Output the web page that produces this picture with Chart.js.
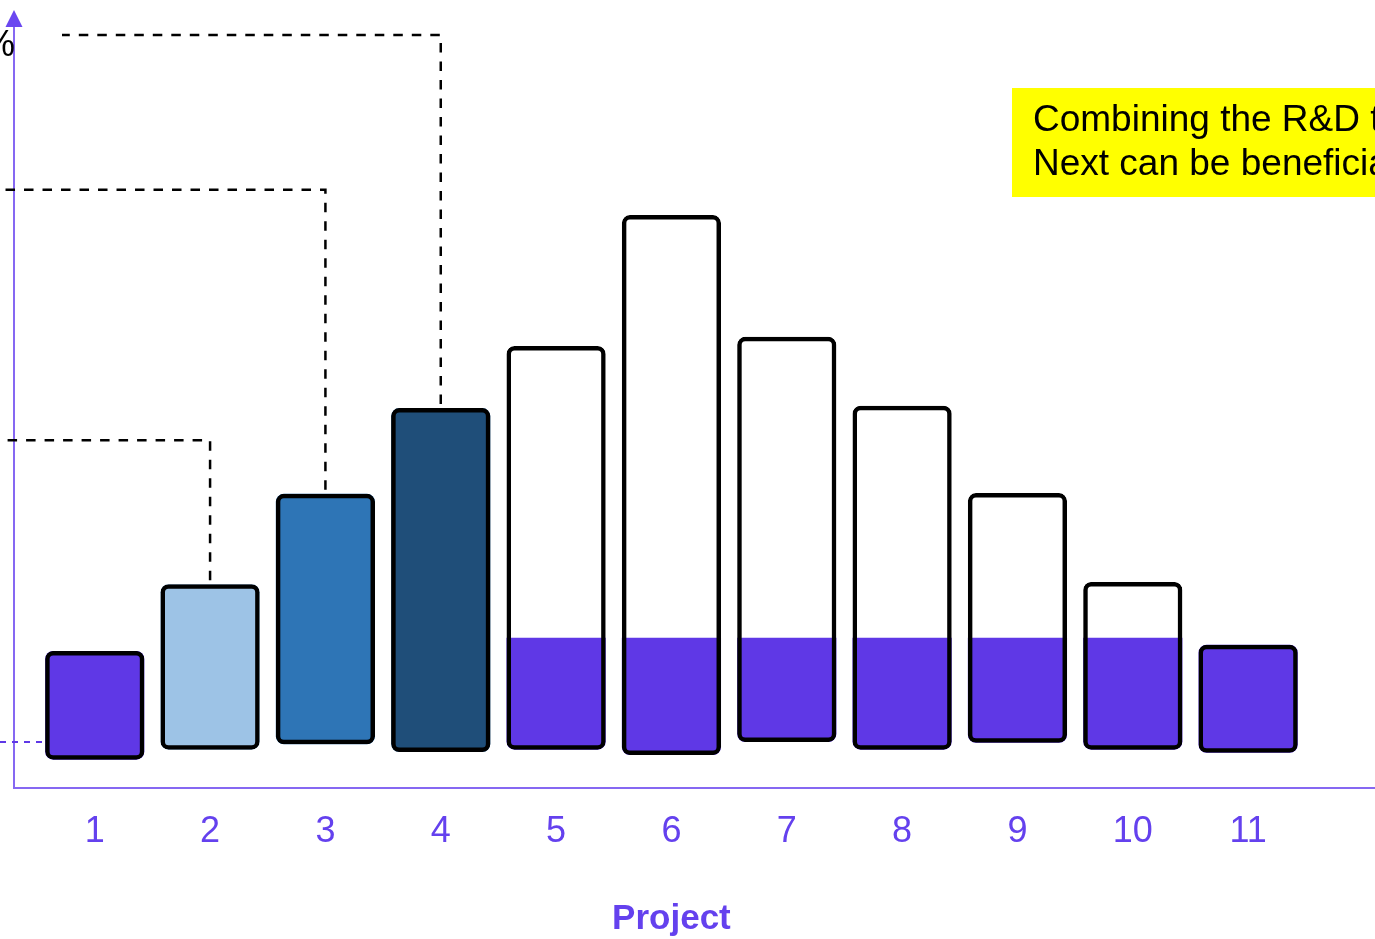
<!DOCTYPE html>
<html>
<head>
<meta charset="utf-8">
<title>Projects</title>
<script src="https://cdn.jsdelivr.net/npm/chart.js@4/dist/chart.umd.min.js"></script>
<style>
  html, body { margin: 0; padding: 0; background: #fff; overflow: hidden; }
  #wrap { width: 1375px; height: 939px; position: relative; }
</style>
</head>
<body>
<div id="wrap"><canvas id="projectChart"></canvas></div>
<script>
const projects = [1, 2, 3, 4, 5, 6, 7, 8, 9, 10, 11];
const barBase = [3.7, 5.0, 5.7, 4.7, 5.0, 4.3, 6.0, 5.0, 5.9, 5.0, 4.6];
const barTop = [17.9, 26.6, 38.4, 49.6, 57.7, 74.8, 58.9, 49.9, 38.5, 26.9, 18.7];
const barColors = ['#5f38e6', '#9dc3e6', '#2e75b6', '#1f4e79', '#ffffff', '#ffffff',
                   '#ffffff', '#ffffff', '#ffffff', '#ffffff', '#5f38e6'];
// purple share inside the open bars (projects 5 to 10)
const shareProjects = [5, 6, 7, 8, 9, 10];
const shareTop = 19.6;
const baseLine = 6.0;
// dashed leaders from bar tops out to the left margin
const leaderProjects = [2, 3, 4];
const leaderLevels = [45.4, 78.1, 98.3];
const noteLines = ['Combining the R&D teams', 'Next can be beneficial'];

const PURPLE = '#5f38e6';
const AXIS = '#8668f2';
const FONT = '"Liberation Sans", Arial, sans-serif';

const ctx = document.getElementById('projectChart').getContext('2d');

const decor = {
    id: 'decor',
    afterDraw(chart) {
        const c = chart.ctx;
        const area = chart.chartArea;
        const xs = chart.scales.x;
        const ys = chart.scales.y;
        c.save();

        // arrow head on the y axis
        c.fillStyle = '#6a47f0';
        c.beginPath();
        c.moveTo(area.left, area.top - 12);
        c.lineTo(area.left - 8.5, area.top + 5);
        c.lineTo(area.left + 8.5, area.top + 5);
        c.closePath();
        c.fill();

        // unit label, mostly outside the frame
        c.fillStyle = '#000';
        c.font = '36px ' + FONT;
        c.textAlign = 'right';
        c.textBaseline = 'middle';
        c.fillText('%', area.left + 1, ys.getPixelForValue(96.8));

        // short purple dashed base marker
        c.strokeStyle = PURPLE;
        c.lineWidth = 2;
        c.setLineDash([6, 6]);
        const by = ys.getPixelForValue(baseLine);
        c.beginPath();
        c.moveTo(0, by);
        c.lineTo(area.left + 28, by);
        c.stroke();

        // leaders
        c.strokeStyle = '#000';
        c.lineWidth = 2.5;
        c.setLineDash([9.5, 9]);
        leaderProjects.forEach((p, k) => {
            const i = projects.indexOf(p);
            const x = xs.getPixelForValue(p);
            const yTop = ys.getPixelForValue(barTop[i]) - 4;
            const yLev = ys.getPixelForValue(leaderLevels[k]);
            const xStart = k === leaderProjects.length - 1 ? area.left + 48 : 0;
            c.beginPath();
            c.moveTo(x, yTop);
            c.lineTo(x, yLev);
            c.lineTo(xStart, yLev);
            c.stroke();
        });
        c.setLineDash([]);

        // yellow note box
        c.fillStyle = '#ffff00';
        c.fillRect(1012, 88, 400, 109);
        c.fillStyle = '#000';
        c.font = '37px ' + FONT;
        c.textAlign = 'left';
        noteLines.forEach((t, k) => c.fillText(t, 1033, 121 + k * 44));

        // axis title under the middle project
        c.fillStyle = '#6441ee';
        c.font = 'bold 35px ' + FONT;
        c.textAlign = 'center';
        c.fillText('Project', xs.getPixelForValue(projects[5]), 919);
        c.restore();
    }
};

const barPoints = projects.map((p, i) => ({ x: p, y: [barBase[i], barTop[i]] }));
const sharePoints = shareProjects.map(p => {
    const i = projects.indexOf(p);
    return { x: p, y: [barBase[i], shareTop] };
});

const common = {
    grouped: false,
    barPercentage: 0.86,
    categoryPercentage: 1,
    borderSkipped: false
};

new Chart(ctx, {
    type: 'bar',
    data: {
        datasets: [
            {
                ...common,
                label: 'outline',
                data: barPoints,
                backgroundColor: 'rgba(0,0,0,0)',
                borderColor: '#000',
                borderWidth: 4.5,
                borderRadius: 8
            },
            {
                ...common,
                label: 'share',
                data: sharePoints,
                backgroundColor: PURPLE,
                borderWidth: 0,
                borderRadius: { topLeft: 0, topRight: 0, bottomLeft: 8, bottomRight: 8 }
            },
            {
                ...common,
                label: 'fill',
                data: barPoints,
                backgroundColor: barColors,
                borderWidth: 0,
                borderRadius: 8
            }
        ]
    },
    options: {
        responsive: true,
        maintainAspectRatio: false,
        animation: false,
        layout: { padding: { left: 14, top: 22, right: 0, bottom: 0 } },
        plugins: {
            legend: { display: false },
            tooltip: { enabled: false }
        },
        scales: {
            x: {
                type: 'linear',
                offset: false,
                min: 0.3,
                max: 12.1,
                afterBuildTicks: s => { s.ticks = projects.map(v => ({ value: v })); },
                afterFit: s => { s.height = 151; },
                grid: { display: false, drawTicks: false, tickLength: 0 },
                border: { display: true, color: AXIS, width: 2 },
                ticks: {
                    color: '#6441ee',
                    font: { family: FONT, size: 36 },
                    padding: 22,
                    maxRotation: 0,
                    autoSkip: false
                }
            },
            y: {
                min: 0,
                max: 100,
                afterFit: s => { s.width = 0; },
                grid: { display: false, drawTicks: false, tickLength: 0 },
                border: { display: true, color: AXIS, width: 2 },
                ticks: { display: false }
            }
        }
    },
    plugins: [decor]
});
</script>
</body>
</html>
